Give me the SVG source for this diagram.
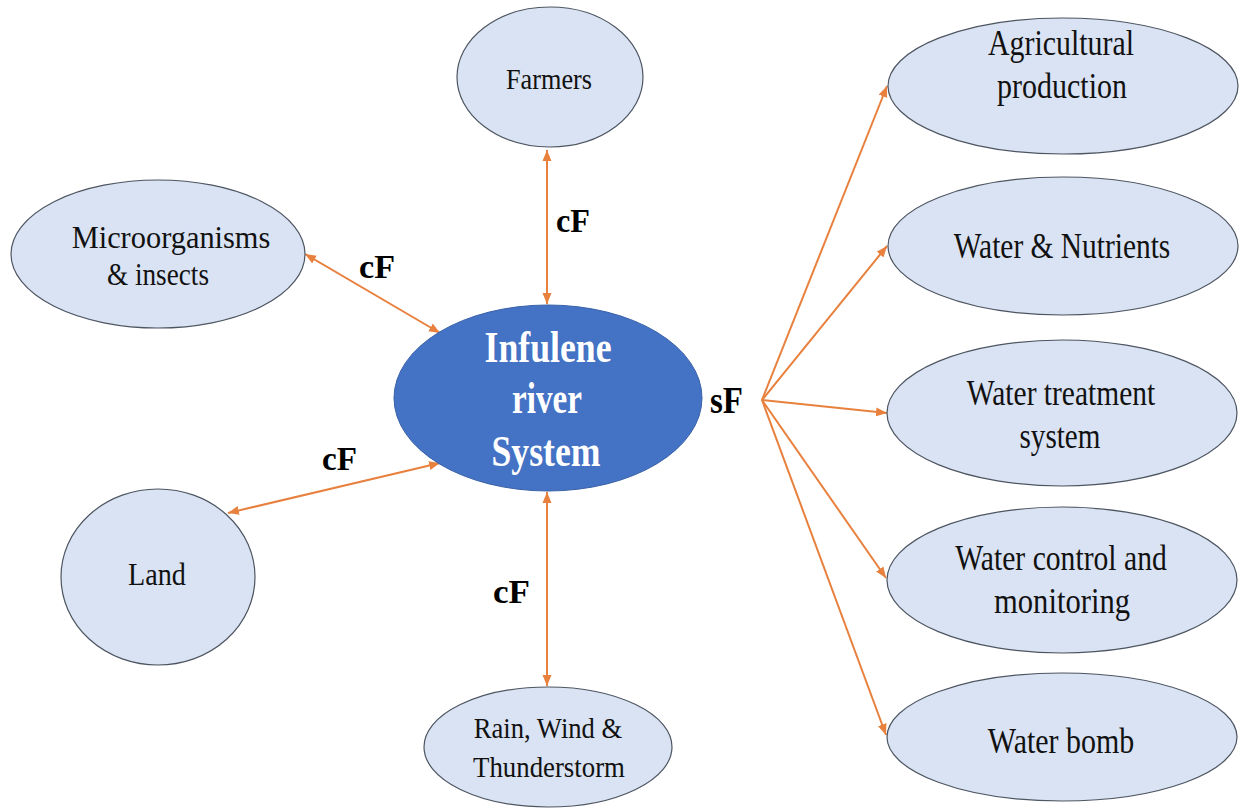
<svg xmlns="http://www.w3.org/2000/svg" width="1241" height="810" viewBox="0 0 1241 810">
<defs>
<marker id="ah" markerUnits="userSpaceOnUse" markerWidth="12" markerHeight="10" refX="11" refY="5" orient="auto-start-reverse" viewBox="0 0 12 10">
<path d="M0,0.5 L11,5 L0,9.5 Z" fill="#E8803E"/>
</marker>
<style>
.node{fill:#DAE3F3;stroke:#4D5561;stroke-width:1.2}
.conn{stroke:#E8803E;stroke-width:2;fill:none}
.bi{marker-start:url(#ah);marker-end:url(#ah)}
.uni{marker-end:url(#ah)}
</style>
</defs>
<rect width="1241" height="810" fill="#fff"/>
<g id="connectors">
<line class="conn bi" x1="547" y1="150" x2="547" y2="304"/>
<line class="conn bi" x1="305" y1="254" x2="440" y2="333"/>
<line class="conn bi" x1="228" y1="513" x2="440" y2="463"/>
<line class="conn bi" x1="547" y1="492" x2="547" y2="686"/>
<line class="conn uni" x1="762" y1="400" x2="887" y2="86"/>
<line class="conn uni" x1="762" y1="400" x2="887" y2="246"/>
<line class="conn uni" x1="762" y1="400" x2="887" y2="413"/>
<line class="conn uni" x1="762" y1="400" x2="886" y2="578"/>
<line class="conn uni" x1="762" y1="400" x2="886" y2="735"/>
<g font-family="Liberation Serif, serif" font-weight="bold" fill="#000" font-size="34">
<text x="556" y="232" textLength="34" lengthAdjust="spacingAndGlyphs">cF</text>
<text x="359" y="278" textLength="36" lengthAdjust="spacingAndGlyphs">cF</text>
<text x="322" y="470" textLength="35" lengthAdjust="spacingAndGlyphs">cF</text>
<text x="493" y="603" textLength="37" lengthAdjust="spacingAndGlyphs">cF</text>
<text x="710" y="413" font-size="38" textLength="33" lengthAdjust="spacingAndGlyphs">sF</text>
</g>
</g>
<g id="center">
<ellipse cx="548" cy="398" rx="154" ry="93" fill="#4472C4" stroke="#3A62A8" stroke-width="1"/>
<g font-family="Liberation Serif, serif" font-weight="bold" font-size="45" fill="#fff" text-anchor="middle">
<text x="548" y="362" textLength="127" lengthAdjust="spacingAndGlyphs">Infulene</text>
<text x="547" y="413" textLength="70" lengthAdjust="spacingAndGlyphs">river</text>
<text x="546" y="466" textLength="109" lengthAdjust="spacingAndGlyphs">System</text>
</g>
</g>
<g font-family="Liberation Serif, serif" fill="#111" text-anchor="middle">
<g id="farmers">
<ellipse class="node" cx="550" cy="77" rx="93" ry="70"/>
<text transform="translate(549,89) scale(0.875,1)" font-size="30">Farmers</text>
</g>
<g id="microorganisms">
<ellipse class="node" cx="158" cy="254" rx="147" ry="74"/>
<text transform="translate(171,248) scale(0.95,1)" font-size="32">Microorganisms</text>
<text transform="translate(158,285) scale(0.85,1)" font-size="32">&amp; insects</text>
</g>
<g id="land">
<ellipse class="node" cx="158" cy="577" rx="97" ry="88"/>
<text transform="translate(157,585) scale(0.88,1)" font-size="32">Land</text>
</g>
<g id="rain">
<ellipse class="node" cx="548" cy="747" rx="124" ry="60"/>
<text transform="translate(548,738) scale(0.887,1)" font-size="30">Rain, Wind &amp;</text>
<text transform="translate(549,777) scale(0.894,1)" font-size="30">Thunderstorm</text>
</g>
<g id="agricultural">
<ellipse class="node" cx="1063" cy="86" rx="175" ry="68"/>
<text transform="translate(1061,55) scale(0.854,1)" font-size="35">Agricultural</text>
<text transform="translate(1062,98) scale(0.857,1)" font-size="35">production</text>
</g>
<g id="water-nutrients">
<ellipse class="node" cx="1063" cy="246" rx="175" ry="69"/>
<text transform="translate(1062,258) scale(0.841,1)" font-size="35">Water &amp; Nutrients</text>
</g>
<g id="water-treatment">
<ellipse class="node" cx="1062" cy="413" rx="175" ry="73"/>
<text transform="translate(1061,405) scale(0.843,1)" font-size="35">Water treatment</text>
<text transform="translate(1060,448) scale(0.833,1)" font-size="35">system</text>
</g>
<g id="water-control">
<ellipse class="node" cx="1062" cy="580" rx="175" ry="73"/>
<text transform="translate(1061,570) scale(0.847,1)" font-size="35">Water control and</text>
<text transform="translate(1062,613) scale(0.874,1)" font-size="35">monitoring</text>
</g>
<g id="water-bomb">
<ellipse class="node" cx="1062" cy="737" rx="175" ry="64"/>
<text transform="translate(1061,753) scale(0.856,1)" font-size="35">Water bomb</text>
</g>
</g>
</svg>
